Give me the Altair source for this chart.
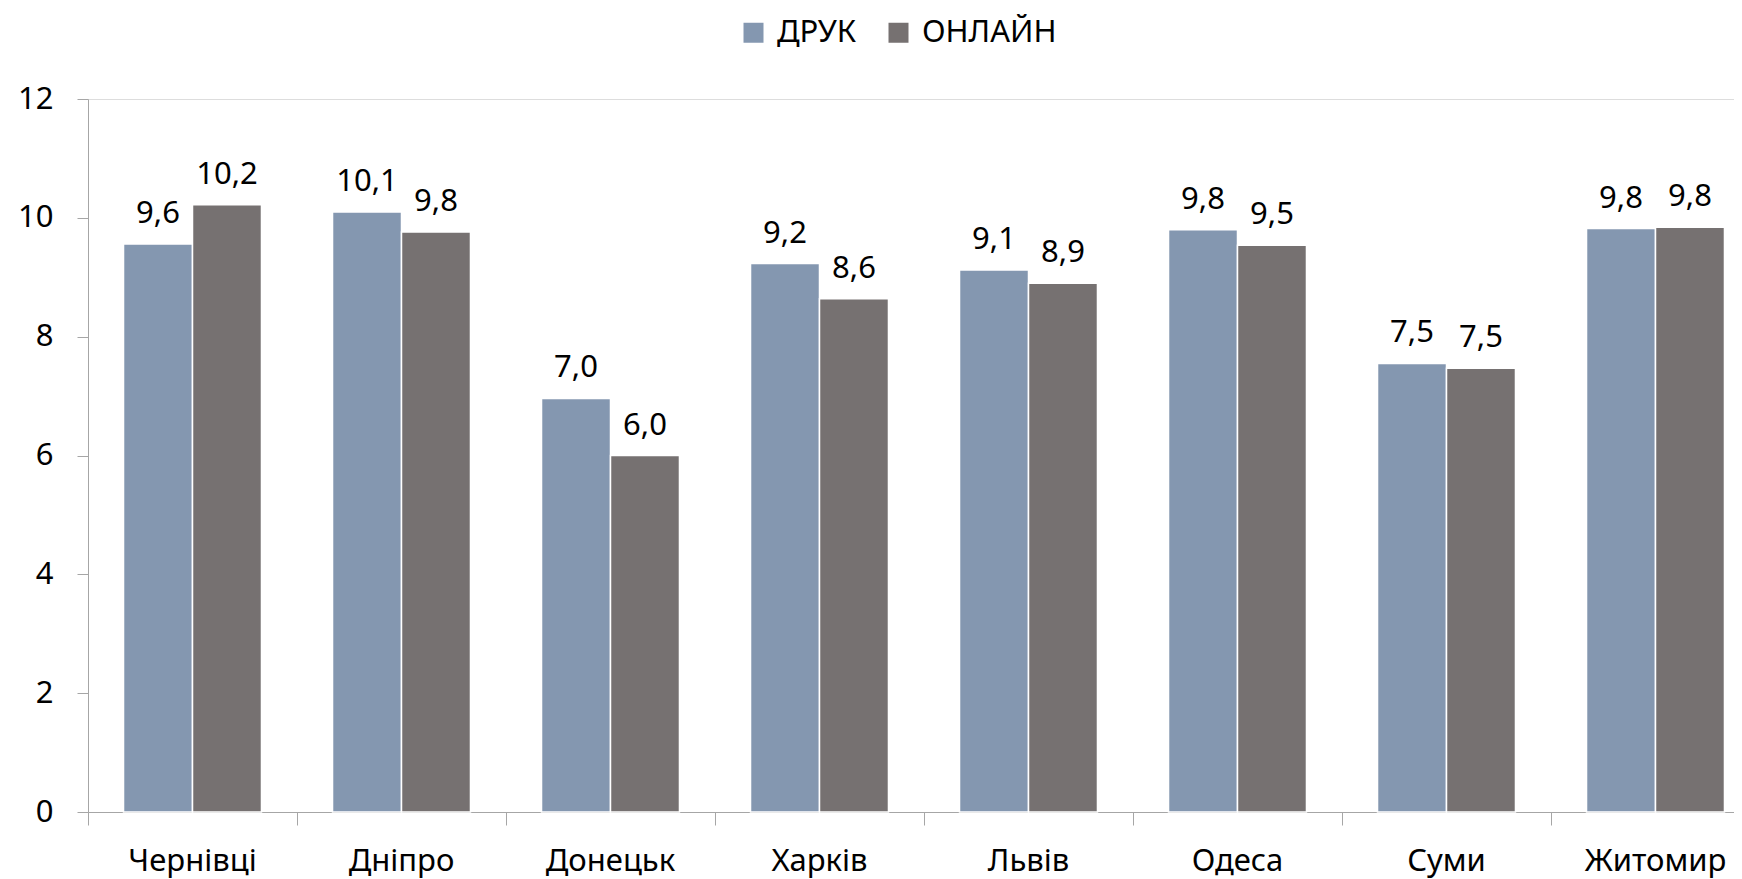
import altair as alt
import pandas as pd

cities = ["Чернівці", "Дніпро", "Донецьк", "Харків", "Львів", "Одеса", "Суми", "Житомир"]
series = ["ДРУК", "ОНЛАЙН"]
druk = [9.56, 10.10, 6.96, 9.23, 9.12, 9.80, 7.55, 9.82]
online = [10.22, 9.76, 6.00, 8.64, 8.90, 9.54, 7.47, 9.84]
colors = ["#8497B0", "#767171"]

rows = []
for i, c in enumerate(cities):
    rows.append({"city": c, "series": series[0], "value": druk[i]})
    rows.append({"city": c, "series": series[1], "value": online[i]})
df = pd.DataFrame(rows)

FONT = "Noto Sans"
FS = 31

base = alt.Chart(df).encode(
    x=alt.X("city:N", sort=cities, title=None,
            scale=alt.Scale(paddingInner=0, paddingOuter=0, range=[0, 1672]),
            axis=alt.Axis(bandPosition=0, labelAngle=0, labelFont=FONT, labelFontSize=FS,
                          labelColor="#000000", domainColor="#A6A6A6", tickColor="#A6A6A6",
                          tickSize=13, labelPadding=21, grid=False)),
    xOffset=alt.XOffset("series:N", sort=series, scale=alt.Scale(paddingInner=0, paddingOuter=0.515)),
)

bars = base.mark_bar(stroke="white", strokeWidth=1.5).encode(
    y=alt.Y("value:Q", title=None,
            scale=alt.Scale(domain=[0, 12]),
            axis=alt.Axis(values=[0, 2, 4, 6, 8, 10, 12], format="d", labelFont=FONT, labelFontSize=FS,
                          labelColor="#000000", domainColor="#A6A6A6", tickColor="#A6A6A6",
                          tickSize=11, labelPadding=24, grid=False)),
    color=alt.Color("series:N", sort=series,
                    scale=alt.Scale(domain=series, range=colors),
                    legend=alt.Legend(title=None, orient="none", direction="horizontal",
                                      legendX=650, legendY=-82, symbolType="square",
                                      symbolSize=400, symbolStrokeWidth=0, labelFont=FONT,
                                      labelFontSize=FS, labelColor="#000000", columnPadding=26,
                                      labelOffset=8)),
)

labels = base.mark_text(font=FONT, fontSize=FS, baseline="bottom", dy=-14, color="#000000").transform_calculate(
    lab="replace(format(datum.value, '.1f'), '.', ',')"
).encode(
    y=alt.Y("value:Q"),
    text=alt.Text("lab:N"),
)

chart = alt.layer(bars, labels).properties(
    width=1646, height=713,
    padding={"left": 80, "top": 91, "right": 0, "bottom": 67},
    autosize=alt.AutoSizeParams(type="none"),
).configure_view(stroke=None).configure(background="white")

chart.save("out.html", embed_options={"renderer": "svg", "actions": False})
